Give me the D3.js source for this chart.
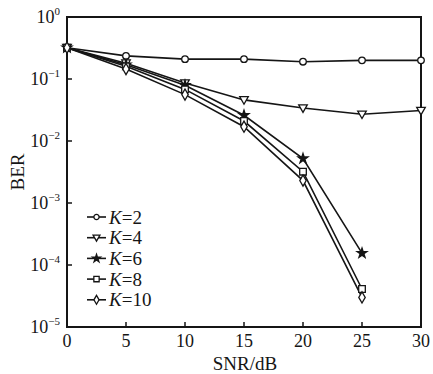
<!DOCTYPE html>
<html><head><meta charset="utf-8">
<script src="https://cdn.jsdelivr.net/npm/d3@7"></script>
<style>body{margin:0;background:#fff}svg{display:block}</style>
</head><body><svg id="c" width="433" height="374" font-family="'Liberation Serif', 'Times New Roman', Times, serif"></svg>
<script>
const snr = [0,5,10,15,20,25,30];
const labels = ["2","4","6","8","10"];
const markers = ["circle","triangle","star","square","diamond"];
const berK2 = [0.32,0.236,0.209,0.209,0.19,0.2,0.2];
const berK4 = [0.32,0.18,0.086,0.046,0.034,0.027,0.031];
const berK6 = [0.32,0.17,0.079,0.026,0.0052,0.000155];
const berK8 = [0.32,0.16,0.068,0.021,0.0032,0.000041];
const berK10 = [0.32,0.145,0.056,0.017,0.0023,0.00003];
const xTicks = [0,5,10,15,20,25,30];
const yTickExps = [0,-1,-2,-3,-4,-5];
const series = [berK2,berK4,berK6,berK8,berK10];

const svg = d3.select("#c");
const L=67,R=421,T=17,B=327;
const x = d3.scaleLinear().domain([0,30]).range([L,R]);
const y = d3.scaleLog().domain([1e-5,1]).range([B,T]);
const ink="#151515";

const g = svg.append("g");
xTicks.forEach(v=>{
  g.append("line").attr("x1",x(v)).attr("x2",x(v)).attr("y1",B).attr("y2",B-5).attr("stroke",ink).attr("stroke-width",1.5);
  g.append("text").attr("x",x(v)).attr("y",B+20).attr("text-anchor","middle").attr("font-size",18).attr("fill",ink).text(v);
});
yTickExps.forEach(e=>{
  const yy=y(Math.pow(10,e));
  g.append("line").attr("x1",L).attr("x2",L+5).attr("y1",yy).attr("y2",yy).attr("stroke",ink).attr("stroke-width",1.5);
  const t=g.append("text").attr("x",L-7).attr("y",yy+6).attr("text-anchor","end").attr("font-size",18).attr("fill",ink);
  t.append("tspan").text("10");
  t.append("tspan").attr("dy",-8).attr("font-size",11).text(e===0?"0":"\u2212"+(-e));
});
svg.append("rect").attr("x",L).attr("y",T).attr("width",R-L).attr("height",B-T).attr("fill","none").attr("stroke",ink).attr("stroke-width",2);

svg.append("text").attr("x",245).attr("y",370).attr("text-anchor","middle").attr("font-size",19).attr("fill",ink).text("SNR/dB");
svg.append("text").attr("transform","translate(24,"+((T+B)/2)+") rotate(-90)").attr("text-anchor","middle").attr("font-size",19).attr("fill",ink).text("BER");

const line = d3.line().x((d,i)=>x(snr[i])).y(d=>y(d));
const symMap = {circle:d3.symbolCircle,square:d3.symbolSquare,diamond:d3.symbolDiamond,star:d3.symbolStar};
function marker(sel,type,cx,cy,sc){
  sc = sc||1;
  if(type==="triangle"){
    const a=4.3*sc;
    sel.append("path").attr("d","M"+(cx-a)+","+(cy-a*0.75)+"L"+(cx+a)+","+(cy-a*0.75)+"L"+cx+","+(cy+a)+"Z")
      .attr("fill","#fff").attr("stroke",ink).attr("stroke-width",1.3);
    return;
  }
  const size = (type==="circle"?34:type==="square"?44:type==="diamond"?36:30)*sc*sc;
  sel.append("path").attr("d",d3.symbol().type(symMap[type]).size(size)()).attr("transform","translate("+cx+","+cy+")")
    .attr("fill",type==="star"?ink:"#fff").attr("stroke",ink).attr("stroke-width",1.3);
}
series.forEach((s,k)=>{
  svg.append("path").datum(s).attr("d",line).attr("fill","none").attr("stroke",ink).attr("stroke-width",1.6);
});
series.forEach((s,k)=>{
  const gm=svg.append("g");
  s.forEach((v,i)=>marker(gm,markers[k],x(snr[i]),y(v)));
});
labels.forEach((lb,k)=>{
  const yy=217+k*20.7;
  svg.append("line").attr("x1",87).attr("x2",106).attr("y1",yy).attr("y2",yy).attr("stroke",ink).attr("stroke-width",1.6);
  marker(svg,markers[k],96.5,yy,0.8);
  const t=svg.append("text").attr("x",109).attr("y",yy+6.5).attr("font-size",19).attr("fill",ink);
  t.append("tspan").attr("font-style","italic").text("K");
  t.append("tspan").text("="+lb);
});
</script></body></html>
